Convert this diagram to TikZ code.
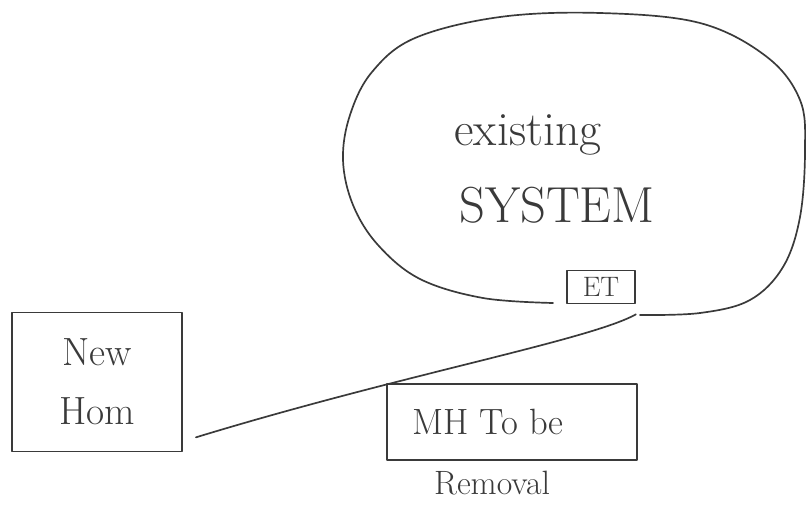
\documentclass[tikz,border=0pt]{standalone}
\usepackage{tikz}
\usetikzlibrary{positioning}
\definecolor{pencil}{HTML}{3A3A3A}
\tikzset{
  sketchbox/.style={draw=pencil,line width=1.2pt,inner sep=0pt},
  hand/.style={text=pencil,inner sep=0pt}
}
\begin{document}
\begin{tikzpicture}[x=0.025cm,y=-0.025cm,line join = round, line cap = round, >= stealth]
	\useasboundingbox (0,0) rectangle (807,506);
	%existing system outline, open at the ET box
	\draw[pencil,line width=1.2pt] plot[smooth,tension=0.6] coordinates {(553,303) (483,298) (420,279) (378,245) (353,205) (343,160) (350,115) (372,72) (415,38) (500,17) (600,13) (700,23) (767,57) (800,100) (805,150) (800,217) (783,267) (750,300) (700,313) (640,315)};
	\node[hand,font=\fontsize{34}{36}\selectfont] (existing) at (528,135) {existing};
	\node[hand,font=\fontsize{36}{38}\selectfont] (system) at (557,205) {SYSTEM};
	\node[sketchbox,minimum width=1.7cm,minimum height=0.825cm,text=pencil,font=\fontsize{20}{22}\selectfont] (et) at (601,287) {ET};
	%new home and the box to remove
	\node[sketchbox,minimum width=4.25cm,minimum height=3.475cm,align=center,text=pencil,font=\fontsize{28}{42}\selectfont] (newhome) at (97,382) {New\\Hom};
	\node[sketchbox,minimum width=6.25cm,minimum height=1.9cm,text=pencil,font=\fontsize{26}{28}\selectfont] (mhbox) at (512,422) {MH To be\hspace*{1.2cm}};
	\node[hand,font=\fontsize{24}{26}\selectfont,below=0.25cm of mhbox.south,xshift=-0.5cm] (removal) {Removal};
	\coordinate (lineend) at ([xshift=0.325cm,yshift=0.375cm]newhome.south east);
	\draw[pencil,line width=1.2pt] ([yshift=-0.25cm]et.south east) .. controls (590,340) and (400,375) .. (lineend);
\end{tikzpicture}
\end{document}
